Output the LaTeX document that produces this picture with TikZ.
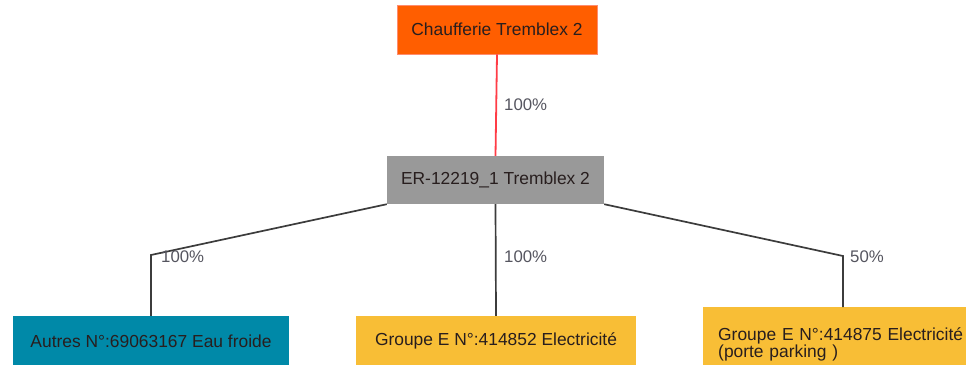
\documentclass[tikz,border=0pt]{standalone}
\usepackage{fontspec}
\setmainfont{Liberation Sans}
\definecolor{orangebox}{RGB}{255,94,0}
\definecolor{orangeedge}{RGB}{255,140,110}
\definecolor{graybox}{RGB}{153,153,153}
\definecolor{tealbox}{RGB}{0,137,168}
\definecolor{yellowbox}{RGB}{248,190,54}
\definecolor{txt}{RGB}{40,30,30}
\definecolor{lbl}{RGB}{85,85,95}
\definecolor{redline}{RGB}{255,60,70}
\definecolor{darkline}{RGB}{60,60,60}
\begin{document}
\begin{tikzpicture}[x=1pt,y=-1pt,
  box/.style={draw=none, inner sep=0pt, text=txt, font=\fontsize{17.4}{19}\selectfont},
  lab/.style={anchor=west, inner sep=0pt, text=lbl, font=\fontsize{16.8}{18}\selectfont},
  conn/.style={draw=darkline, line width=1.7pt}]
\useasboundingbox (0,0) rectangle (966,364);
\node[box, fill=orangebox, draw=orangeedge, line width=0.6pt, minimum width=200pt, minimum height=49pt] (top) at (497,29.5) {Chaufferie Tremblex 2};
\node[box, fill=graybox, minimum width=217pt, minimum height=48pt] (er) at (495.5,180) {ER-12219\_1 Tremblex 2};
\node[box, fill=tealbox, minimum width=276pt, minimum height=50pt] (autres) at (151,341) {Autres N°:69063167 Eau froide};
\node[box, fill=yellowbox, minimum width=280pt, minimum height=50pt] (grpa) at (496,341) {Groupe E N°:414852 Electricité};
\node[box, fill=yellowbox, anchor=north west, minimum width=275pt, minimum height=70pt, text width=260pt, inner xsep=15pt, inner ysep=0pt, align=left] (grpb) at (703,307) {\rule{0pt}{17pt}Groupe E N°:414875 Electricité\\[-2pt](porte parking )};
\coordinate (lbend) at (151,255);
\coordinate (rbend) at (843,256);
\draw[draw=redline, line width=1.8pt] (top.south) -- (er.north);
\draw[conn] (er.south west) -- (lbend) -- (autres.north);
\draw[conn] (er.south) -- (grpa.north);
\draw[conn] (er.south east) -- (rbend) -- (rbend |- grpb.north);
\node[lab] (l0) at (504,105) {100\%};
\node[lab] (l1) at (161,257) {100\%};
\node[lab] (l2) at (504,257) {100\%};
\node[lab] (l3) at (850,257) {50\%};
\end{tikzpicture}
\end{document}
